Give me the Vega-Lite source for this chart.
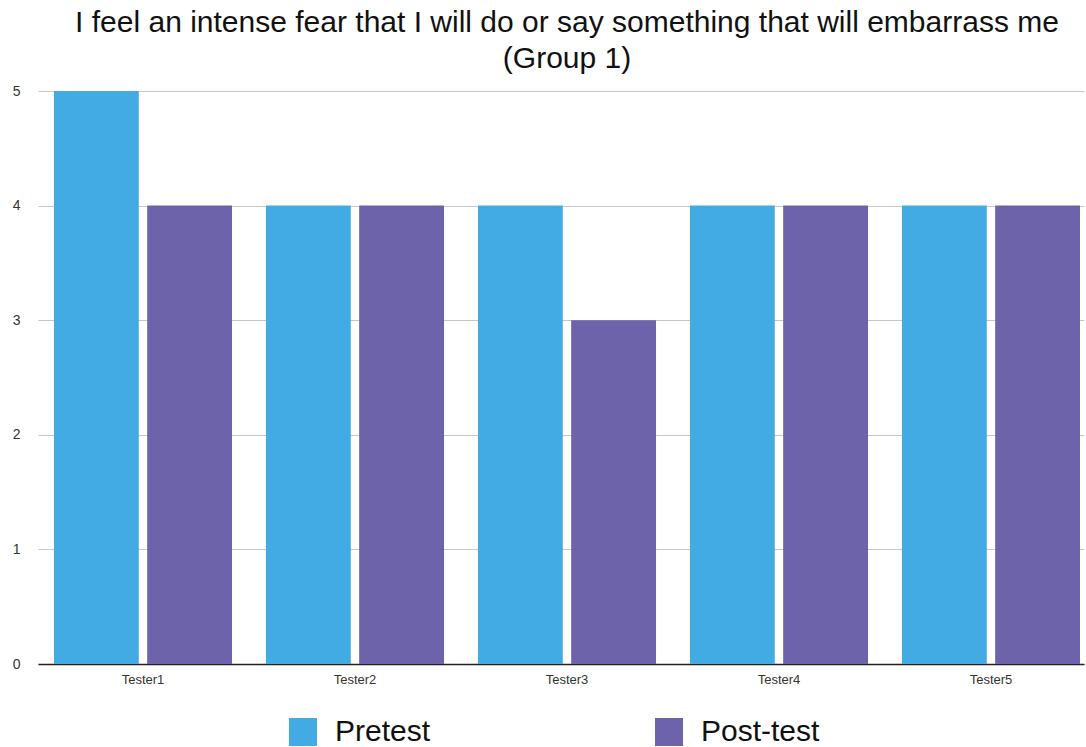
{
  "$schema": "https://vega.github.io/schema/vega-lite/v6.json",
  "width": 1046,
  "height": 573,
  "autosize": {"type": "none"},
  "padding": {"left": 38, "top": 91, "right": 2, "bottom": 83},
  "background": "white",
  "title": {
    "text": ["I feel an intense fear that I will do or say something that will embarrass me", "(Group 1)"],
    "font": "Liberation Sans",
    "fontSize": 30,
    "fontWeight": "normal",
    "color": "#111111",
    "lineHeight": 36,
    "anchor": "middle",
    "offset": 10,
    "dx": 6
  },
  "data": {
    "values": [
      {"tester": "Tester1", "test": "Pretest", "score": 5},
      {"tester": "Tester1", "test": "Post-test", "score": 4},
      {"tester": "Tester2", "test": "Pretest", "score": 4},
      {"tester": "Tester2", "test": "Post-test", "score": 4},
      {"tester": "Tester3", "test": "Pretest", "score": 4},
      {"tester": "Tester3", "test": "Post-test", "score": 3},
      {"tester": "Tester4", "test": "Pretest", "score": 4},
      {"tester": "Tester4", "test": "Post-test", "score": 4},
      {"tester": "Tester5", "test": "Pretest", "score": 4},
      {"tester": "Tester5", "test": "Post-test", "score": 4}
    ]
  },
  "mark": {"type": "bar"},
  "encoding": {
    "x": {
      "field": "tester",
      "type": "nominal",
      "sort": null,
      "scale": {"paddingInner": 0.16, "paddingOuter": 0.047, "align": 0.8},
      "axis": {
        "title": null,
        "labelAngle": 0,
        "ticks": false,
        "labelPadding": 9,
        "labelFont": "Liberation Sans",
        "labelFontSize": 13,
        "labelColor": "#333333",
        "domainColor": "#222222",
        "domainWidth": 1.5,
        "grid": false
      }
    },
    "xOffset": {
      "field": "test",
      "type": "nominal",
      "sort": ["Pretest", "Post-test"],
      "scale": {"paddingInner": 0.09, "paddingOuter": 0}
    },
    "y": {
      "field": "score",
      "type": "quantitative",
      "scale": {"domain": [0, 5], "nice": false},
      "axis": {
        "title": null,
        "values": [0, 1, 2, 3, 4, 5],
        "format": "d",
        "domain": false,
        "ticks": false,
        "labelPadding": 18,
        "labelFont": "Liberation Sans",
        "labelFontSize": 14,
        "labelColor": "#333333",
        "gridColor": "#c6c6c6",
        "gridWidth": 1
      }
    },
    "color": {
      "field": "test",
      "type": "nominal",
      "sort": ["Pretest", "Post-test"],
      "scale": {"domain": ["Pretest", "Post-test"], "range": ["#42abe3", "#6c63ab"]},
      "legend": {
        "title": null,
        "orient": "none",
        "direction": "horizontal",
        "legendX": 250,
        "legendY": 626,
        "symbolType": "square",
        "symbolSize": 784,
        "symbolStrokeWidth": 0,
        "labelFont": "Liberation Sans",
        "labelFontSize": 30,
        "labelColor": "#111111",
        "labelOffset": 17,
        "columnPadding": 223
      }
    }
  },
  "config": {"view": {"stroke": null}}
}
